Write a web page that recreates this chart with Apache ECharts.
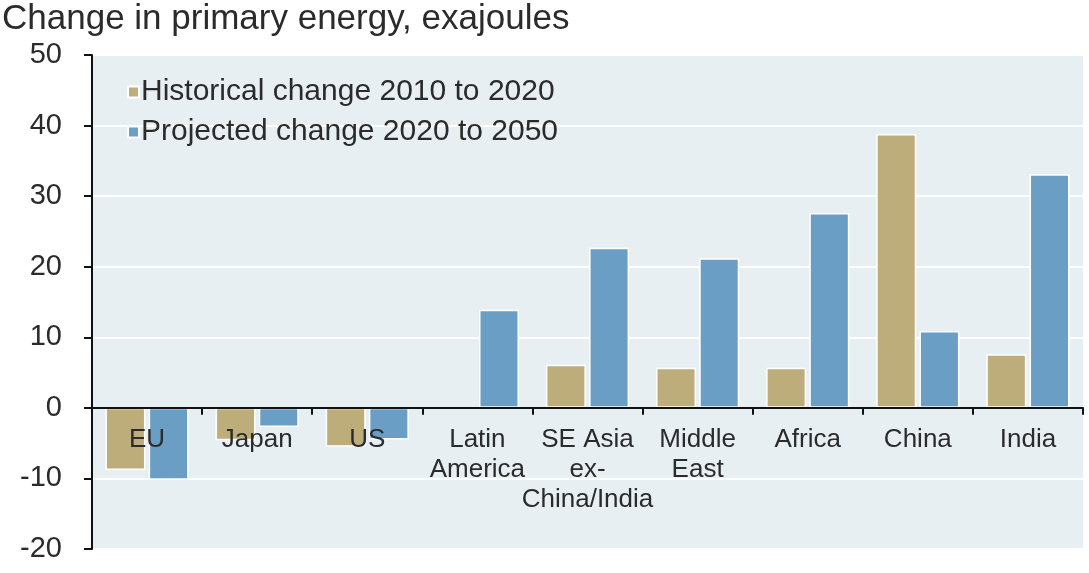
<!DOCTYPE html>
<html>
<head>
<meta charset="utf-8">
<script src="https://cdn.jsdelivr.net/npm/echarts@6/dist/echarts.min.js"></script>
<style>
  html, body { margin: 0; padding: 0; background: #fff; }
  #chart { width: 1089px; height: 573px; }
</style>
</head>
<body>
<div id="chart"></div>
<script>
const categories = ['EU', 'Japan', 'US', 'Latin\nAmerica', 'SE Asia\nex-\nChina/India', 'Middle\nEast', 'Africa', 'China', 'India']
const historical = [-8.8, -4.6, -5.5, 0, 6.1, 5.7, 5.7, 38.8, 7.6]
const projected = [-10.2, -2.7, -4.5, 13.9, 22.7, 21.2, 27.6, 10.9, 33.1]
const yTicks = [-20, 50, 10] // min, max, interval

const chart = echarts.init(document.getElementById('chart'))
const font = 'Liberation Sans, Arial, sans-serif'

// grid box, used to lift the category axis up to the zero line
const gridTop = 55, gridBottom = 24
const plotH = 573 - gridTop - gridBottom
const zeroShift = plotH * (0 - yTicks[0]) / (yTicks[1] - yTicks[0])

chart.setOption({
  animation: false,
  textStyle: { fontFamily: font },
  title: {
    text: 'Change in primary energy, exajoules',
    left: -3,
    top: -3,
    textStyle: { fontSize: 35, fontWeight: 'normal', color: '#2b2b2b', fontFamily: font }
  },
  legend: {
    orient: 'vertical',
    left: 122,
    top: 72,
    itemWidth: 11,
    itemHeight: 11,
    itemGap: 10,
    icon: 'rect',
    textStyle: { fontSize: 30, color: '#2b2b2b', padding: [0, 0, 0, -3] },
    data: ['Historical change 2010 to 2020', 'Projected change 2020 to 2050']
  },
  grid: {
    left: 92,
    right: 6,
    top: gridTop,
    bottom: gridBottom,
    show: true,
    backgroundColor: '#e7eff3',
    borderWidth: 0,
    containLabel: false,
    outerBoundsMode: 'none'
  },
  xAxis: {
    type: 'category',
    data: categories,
    z: 5,
    offset: -zeroShift,
    axisLine: { onZero: false, lineStyle: { color: '#111', width: 2 } },
    axisTick: { show: true, length: 7, lineStyle: { color: '#111', width: 2 } },
    axisLabel: { fontSize: 26, color: '#2b2b2b', margin: 17, lineHeight: 30, interval: 0 }
  },
  yAxis: {
    type: 'value',
    min: yTicks[0],
    max: yTicks[1],
    interval: yTicks[2],
    axisLine: { show: true, lineStyle: { color: '#111', width: 2 } },
    axisTick: { show: true, length: 8, lineStyle: { color: '#111', width: 2 } },
    axisLabel: { fontSize: 29, color: '#2b2b2b', margin: 30 },
    splitLine: { lineStyle: { color: '#ffffff', width: 2 } }
  },
  series: [
    {
      name: 'Historical change 2010 to 2020',
      type: 'bar',
      data: historical,
      barWidth: 40,
      barGap: '8%',
      itemStyle: { color: '#bcad7a', borderColor: '#fff', borderWidth: 1.5 }
    },
    {
      name: 'Projected change 2020 to 2050',
      type: 'bar',
      data: projected,
      barWidth: 40,
      barGap: '8%',
      itemStyle: { color: '#6a9ec4', borderColor: '#fff', borderWidth: 1.5 }
    }
  ]
})
</script>
</body>
</html>
